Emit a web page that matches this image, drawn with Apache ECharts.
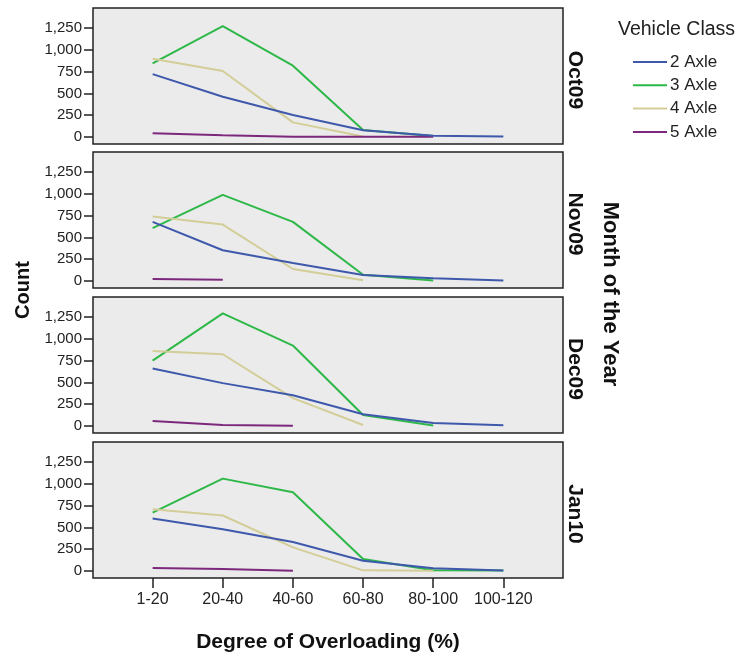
<!DOCTYPE html>
<html>
<head>
<meta charset="utf-8">
<script src="https://cdn.jsdelivr.net/npm/echarts@6/dist/echarts.min.js"></script>
<style>
html,body{margin:0;padding:0;background:#fff;}
#chart{width:742px;height:656px;}
</style>
</head>
<body>
<div id="chart"></div>
<script>
// Categories (x axis)
const categories = ['1-20', '20-40', '40-60', '60-80', '80-100', '100-120'];
// Panels (months)
const months = ['Oct09', 'Nov09', 'Dec09', 'Jan10'];
// Vehicle classes
const classes = ['2 Axle', '3 Axle', '4 Axle', '5 Axle'];
const yTicks = [0, 250, 500, 750, 1000, 1250];

// Series values per month (null = no data)
const oct09_2axle = [722, 462, 252, 78, 14, 5];
const oct09_3axle = [845, 1273, 818, 80, 12, null];
const oct09_4axle = [898, 757, 168, 5, null, null];
const oct09_5axle = [42, 20, 3, 3, 3, null];

const nov09_2axle = [678, 353, 207, 69, 32, 5];
const nov09_3axle = [606, 988, 678, 72, 5, null];
const nov09_4axle = [740, 648, 138, 8, null, null];
const nov09_5axle = [23, 14, null, null, null, null];

const dec09_2axle = [661, 492, 354, 135, 34, 8];
const dec09_3axle = [750, 1292, 923, 127, 5, null];
const dec09_4axle = [862, 823, 320, 12, null, null];
const dec09_5axle = [58, 12, 3, null, null, null];

const jan10_2axle = [603, 480, 332, 118, 31, 5];
const jan10_3axle = [671, 1060, 904, 137, 8, 5];
const jan10_4axle = [709, 637, 271, 8, 3, null];
const jan10_5axle = [34, 23, 3, null, null, null];

const panelData = [
  [oct09_2axle, oct09_3axle, oct09_4axle, oct09_5axle],
  [nov09_2axle, nov09_3axle, nov09_4axle, nov09_5axle],
  [dec09_2axle, dec09_3axle, dec09_4axle, dec09_5axle],
  [jan10_2axle, jan10_3axle, jan10_4axle, jan10_5axle]
];

const colors = ['#3E58AC', '#2EB848', '#D3CE97', '#7C287D'];
const tops = [8, 152, 297, 442];
const gridH = 136;
const font = '"Liberation Sans", Arial, sans-serif';

const grids = [], xAxes = [], yAxes = [], series = [], graphics = [];
const xIdx = categories.map((c, i) => i);

months.forEach((m, p) => {
  grids.push({
    left: 93, width: 470, top: tops[p], height: gridH,
    show: true, backgroundColor: '#EBEBEB', borderColor: '#222', borderWidth: 1.5,
    containLabel: false
  });
  const isBottom = p === months.length - 1;
  xAxes.push({
    type: 'value', gridIndex: p, min: -0.85, max: 5.85, position: 'bottom',
    axisLine: { show: false, onZero: false },
    splitLine: { show: false },
    axisTick: { show: isBottom, length: 10, inside: false, customValues: xIdx,
      lineStyle: { color: '#222', width: 1.5 } },
    axisLabel: { show: isBottom, customValues: xIdx, margin: 14,
      formatter: v => categories[Math.round(v)] || '',
      color: '#222', fontSize: 16, fontFamily: font }
  });
  yAxes.push({
    type: 'value', gridIndex: p, min: -80, max: 1480, position: 'left',
    axisLine: { show: false, onZero: false },
    splitLine: { show: false },
    axisTick: { show: true, length: 9, customValues: yTicks,
      lineStyle: { color: '#222', width: 1.5 } },
    axisLabel: { customValues: yTicks, margin: 11, color: '#222', fontSize: 15, fontFamily: font,
      formatter: v => v.toLocaleString('en-US') }
  });
  classes.forEach((cls, s) => {
    const vals = panelData[p][s];
    series.push({
      name: cls, type: 'line', xAxisIndex: p, yAxisIndex: p,
      data: vals.map((v, i) => [i, v]),
      showSymbol: false, symbol: 'none', connectNulls: false,
      lineStyle: { color: colors[s], width: 2 },
      itemStyle: { color: colors[s] },
      animation: false, z: 2 + (s === 0 ? 1 : 0)
    });
  });
  graphics.push({
    type: 'text', x: 575, y: tops[p] + gridH / 2 + 4, rotation: -Math.PI / 2,
    style: { text: m, font: 'bold 21px ' + font, fill: '#111',
      textAlign: 'center', textVerticalAlign: 'middle' }
  });
});

graphics.push({
  type: 'text', x: 610, y: 294, rotation: -Math.PI / 2,
  style: { text: 'Month of the Year', font: 'bold 22px ' + font, fill: '#111',
    textAlign: 'center', textVerticalAlign: 'middle' }
});
graphics.push({
  type: 'text', x: 23, y: 290, rotation: Math.PI / 2,
  style: { text: 'Count', font: 'bold 20px ' + font, fill: '#111',
    textAlign: 'center', textVerticalAlign: 'middle' }
});
graphics.push({
  type: 'text', x: 328, y: 642,
  style: { text: 'Degree of Overloading (%)', font: 'bold 21px ' + font, fill: '#111',
    textAlign: 'center', textVerticalAlign: 'middle' }
});

const chart = echarts.init(document.getElementById('chart'), null, { renderer: 'canvas' });
chart.setOption({
  animation: false,
  backgroundColor: '#fff',
  title: {
    text: 'Vehicle Class', left: 618, top: 20, padding: 0,
    textStyle: { fontSize: 19.5, fontWeight: 'normal', color: '#222', fontFamily: font }
  },
  legend: {
    data: classes.map((c, i) => ({ name: c, icon: 'rect', itemStyle: { color: colors[i] } })),
    orient: 'vertical', left: 633, top: 52, padding: 0,
    itemWidth: 34, itemHeight: 2, itemGap: 3.3,
    textStyle: { fontSize: 17, color: '#222', fontFamily: font, lineHeight: 20, padding: [0, 0, 0, -2] },
    selectedMode: false
  },
  grid: grids,
  xAxis: xAxes,
  yAxis: yAxes,
  series: series,
  graphic: graphics
});
</script>
</body>
</html>
